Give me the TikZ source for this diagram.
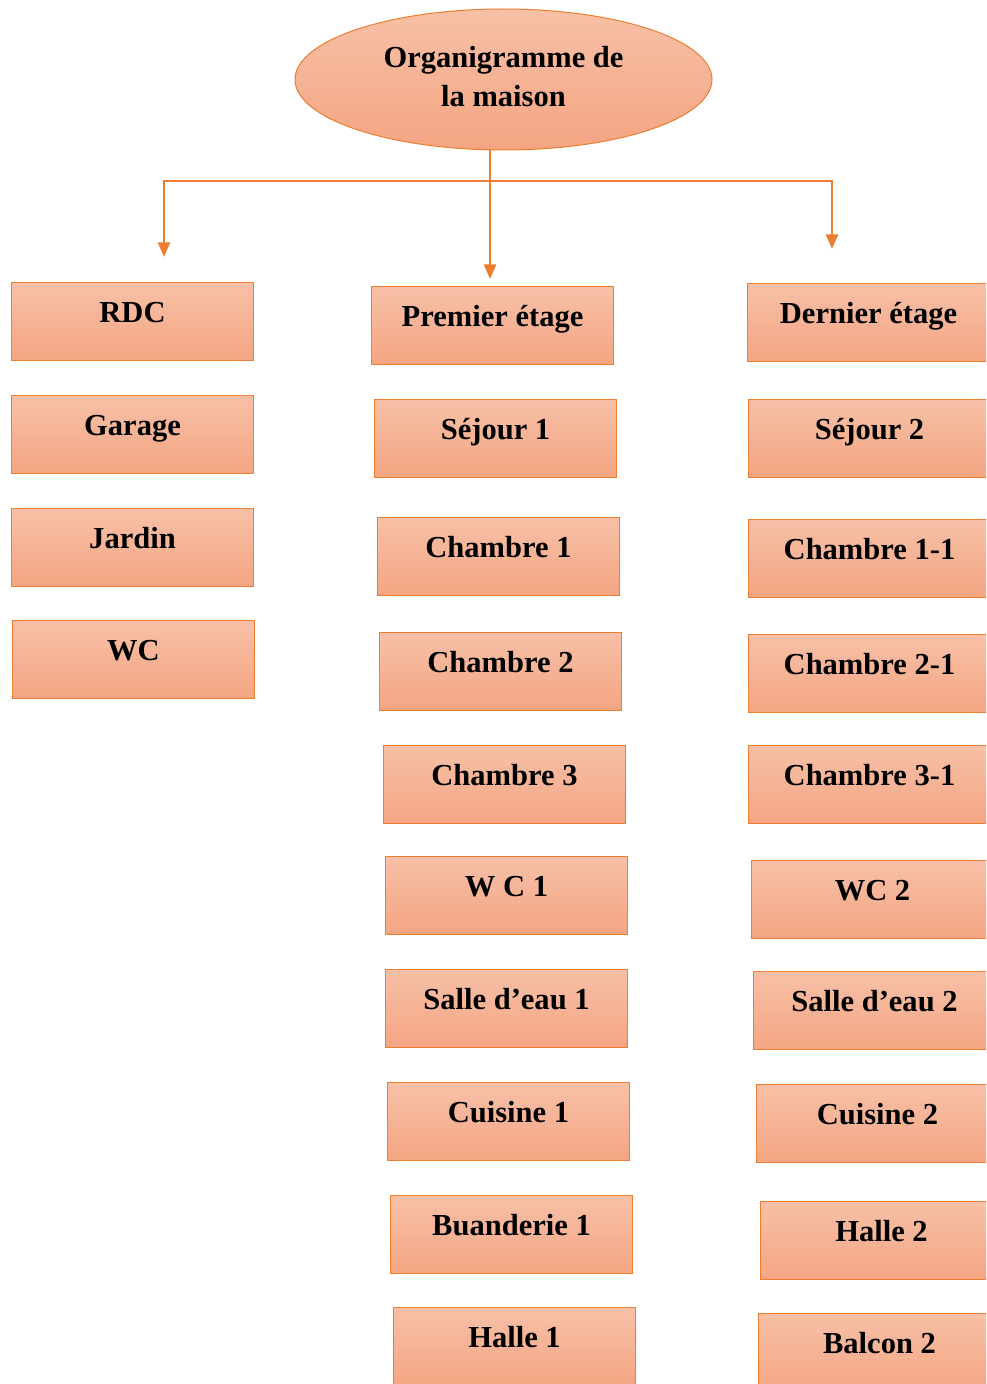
\documentclass[tikz,border=0pt]{standalone}
\usepackage{fontspec}
\setmainfont{Liberation Serif}
\usetikzlibrary{shapes.geometric,arrows.meta}
\definecolor{boxline}{RGB}{237,125,49}
\definecolor{boxtop}{RGB}{247,192,167}
\definecolor{boxbot}{RGB}{244,165,130}
\definecolor{conncol}{RGB}{237,125,49}
\tikzset{
  lbl/.style={font=\fontsize{22.9}{29.25}\selectfont\bfseries},
  stepbox/.style={lbl, rectangle, draw=boxline, line width=0.75pt,
    top color=boxtop, bottom color=boxbot, anchor=north west,
    minimum width=181.5pt, minimum height=58.5pt, inner xsep=0pt, inner ysep=0pt,
    text height=30pt, text depth=28.5pt},
  rootnode/.style={ellipse, draw=boxline, line width=0.75pt,
    top color=boxtop, bottom color=boxbot,
    minimum width=312.75pt, minimum height=105.75pt, inner sep=0pt},
  conn/.style={draw=conncol, line width=1.9pt, line join=miter},
  tip/.style={-{Triangle[width=9pt,length=11pt]}}
}
\begin{document}
\begin{tikzpicture}[x=0.75pt,y=-0.75pt]
\useasboundingbox (0,0) rectangle (986,1384);
\clip (0,0) rectangle (986,1384);
% root
\node[rootnode] (root) at (503.5,79.5) {};
\node[lbl, align=center, inner sep=0pt] (rootlbl) at (503.5,76.5) {Organigramme de\\la maison};
% tips
\coordinate (tipL) at (164,257);
\coordinate (tipM) at (490,279);
\coordinate (tipR) at (832,249);
\coordinate (hub) at (490,181);
% left column
\node[stepbox] (rdc) at (11,282) {RDC};
\node[stepbox] (garage) at (11,395) {Garage};
\node[stepbox] (jardin) at (11,508) {Jardin};
\node[stepbox] (wc) at (12,620) {WC};
% middle column
\node[stepbox] (premier) at (371,286) {Premier étage};
\node[stepbox] (sej1) at (374,399) {Séjour 1};
\node[stepbox] (ch1) at (377,517) {Chambre 1};
\node[stepbox] (ch2) at (379,632) {Chambre 2};
\node[stepbox] (ch3) at (383,745) {Chambre 3};
\node[stepbox] (wc1) at (385,856) {W C 1};
\node[stepbox] (se1) at (385,969) {Salle d’eau 1};
\node[stepbox] (cu1) at (387,1082) {Cuisine 1};
\node[stepbox] (bu1) at (390,1195) {Buanderie 1};
\node[stepbox] (ha1) at (393,1307) {Halle 1};
% right column
\node[stepbox] (dernier) at (747,283) {Dernier étage};
\node[stepbox] (sej2) at (748,399) {Séjour 2};
\node[stepbox] (ch11) at (748,519) {Chambre 1-1};
\node[stepbox] (ch21) at (748,634) {Chambre 2-1};
\node[stepbox] (ch31) at (748,745) {Chambre 3-1};
\node[stepbox] (wc2) at (751,860) {WC 2};
\node[stepbox] (se2) at (753,971) {Salle d’eau 2};
\node[stepbox] (cu2) at (756,1084) {Cuisine 2};
\node[stepbox] (ha2) at (760,1201) {Halle 2};
\node[stepbox] (ba2) at (758,1313) {Balcon 2};
% connectors
\draw[conn, tip] (root.south -| tipM) -- (tipM);
\draw[conn, {Triangle[width=9pt,length=11pt]}-{Triangle[width=9pt,length=11pt]}]
  (tipL) -- (tipL |- hub) -- (tipR |- hub) -- (tipR);
\end{tikzpicture}
\end{document}
